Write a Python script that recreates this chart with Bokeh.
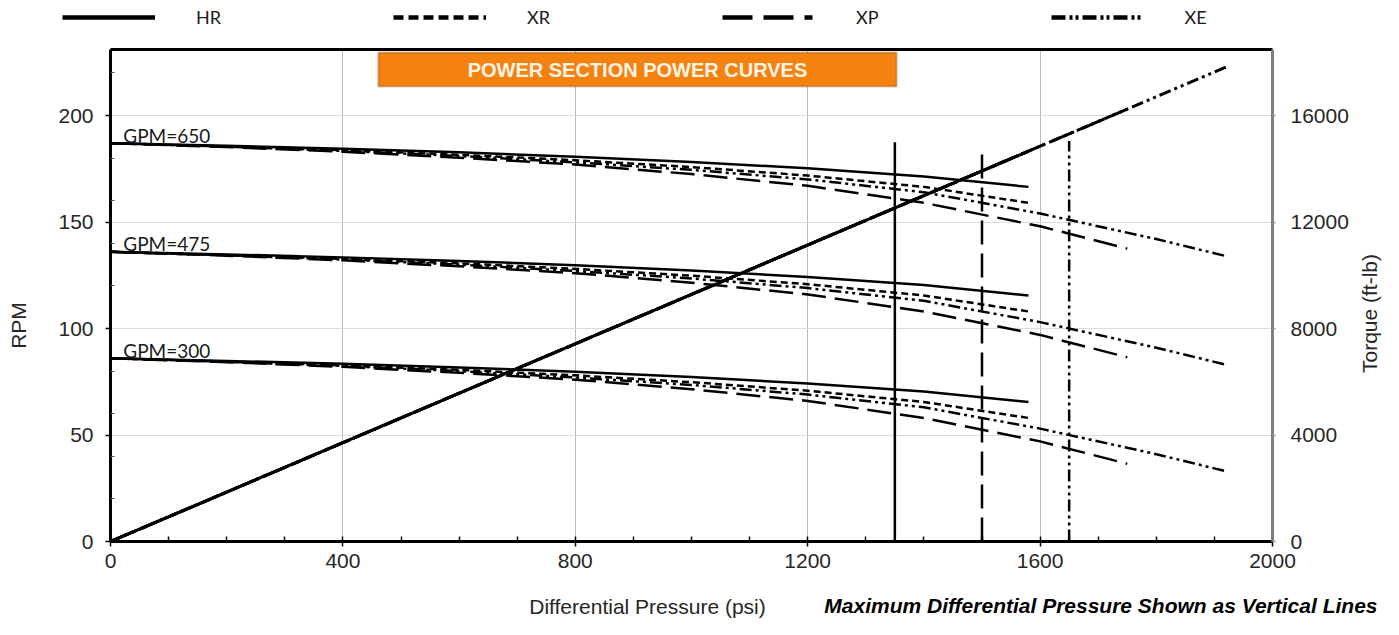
import math
from bokeh.plotting import figure
from bokeh.layouts import column, row
from bokeh.models import (Range1d, LinearAxis, FixedTicker, Legend, LegendItem,
                          Label, BoxAnnotation)
from bokeh.core.properties import value
from bokeh.embed import file_html
from bokeh.resources import INLINE

# ---------------- data ----------------
gpm_labels = ["GPM=650", "GPM=475", "GPM=300"]

pressure_hr = [0, 200, 400, 600, 800, 1000, 1200, 1400, 1580]
pressure_xr = [0, 200, 400, 600, 800, 1000, 1200, 1400, 1580]
pressure_xp = [0, 200, 400, 600, 800, 1000, 1200, 1400, 1600, 1750]
pressure_xe = [0, 200, 400, 600, 800, 1000, 1200, 1400, 1600, 1800, 1920]

rpm_hr_650 = [187, 185.8, 184.4, 182.7, 180.7, 178.2, 175.2, 171.4, 166.5]
rpm_hr_475 = [136, 134.8, 133.4, 131.7, 129.7, 127.2, 124.2, 120.4, 115.5]
rpm_hr_300 = [86, 84.8, 83.4, 81.7, 79.7, 77.2, 74.2, 70.4, 65.5]

rpm_xr_650 = [187, 185.5, 183.7, 181.6, 179.0, 175.8, 171.8, 166.5, 159.0]
rpm_xr_475 = [136, 134.5, 132.7, 130.6, 128.0, 124.8, 120.8, 115.5, 108.0]
rpm_xr_300 = [86, 84.5, 82.7, 80.6, 78.0, 74.8, 70.8, 65.5, 58.0]

rpm_xp_650 = [187, 185.2, 183.0, 180.2, 177.0, 172.5, 167.0, 159.0, 148.0, 137.5]
rpm_xp_475 = [136, 134.2, 132.0, 129.2, 126.0, 121.5, 116.0, 108.0, 97.0, 86.5]
rpm_xp_300 = [86, 84.2, 82.0, 79.2, 76.0, 71.5, 66.0, 58.0, 47.0, 36.5]

rpm_xe_650 = [187, 185.4, 183.4, 181.0, 178.0, 174.5, 170.0, 164.0, 154.0, 142.0, 134.0]
rpm_xe_475 = [136, 134.4, 132.4, 130.0, 127.0, 123.5, 119.0, 113.0, 103.0, 91.0, 83.0]
rpm_xe_300 = [86, 84.4, 82.4, 80.0, 77.0, 73.5, 69.0, 63.0, 53.0, 41.0, 33.0]

# torque (ft-lb) vs differential pressure, per model
torque_pressure_hr = [0, 1580]
torque_hr = [0, 14660]
torque_pressure_xr = [0, 1580]
torque_xr = [0, 14660]
torque_pressure_xp = [0, 1750]
torque_xp = [0, 16240]
torque_pressure_xe = [0, 1920]
torque_xe = [0, 17820]

# maximum differential pressure (vertical lines)
max_pressure = [1350, 1500, 1650]
max_line_top = [187.5, 184.5, 188.0]

x_ticks = [0, 400, 800, 1200, 1600, 2000]
x_minor = [100, 200, 300, 500, 600, 700, 900, 1000, 1100, 1300, 1400, 1500, 1700, 1800, 1900]
y_ticks = [0, 50, 100, 150, 200]
y_minor = [20, 40, 60, 80, 120, 140, 160, 180, 220]
torque_ticks = [0, 4000, 8000, 12000, 16000]

legend_labels = ["HR", "XR", "XP", "XE"]

# ---------------- styles / layout ----------------
FONT = "Liberation Sans"
TXT = "#262626"
W = 1383
LEG_H = 40
MAIN_H = 548
BOT_H = 619 - LEG_H - MAIN_H
LEFT_W = 40
RIGHT_W = 30
MAIN_W = W - LEFT_W - RIGHT_W
FRAME_W = 1162
dash = {"HR": "solid", "XR": "7 4", "XP": "24 9", "XE": "12 4 3 4 3 4"}
legend_dash = {"HR": "solid", "XR": "10 5", "XP": "30 11 30 11 8 20", "XE": "14 4 3 3 3 4"}

Y_MAX = 231
TORQUE_PER_RPM = 80
NAN = float("nan")


def blank_fig(width, height):
    f = figure(width=width, height=height, output_backend="svg", toolbar_location=None,
               x_range=Range1d(0, width), y_range=Range1d(0, height),
               x_axis_location=None, y_axis_location=None, min_border=0,
               frame_align=False)
    f.outline_line_color = None
    f.background_fill_color = "white"
    f.border_fill_color = "white"
    f.grid.visible = False
    return f


# ---------- legend strip (top) ----------
top = blank_fig(W, LEG_H)
items = []
for key in legend_labels:
    r = top.line(x=[NAN], y=[NAN], line_color="black", line_width=4.5,
                 line_dash=legend_dash[key])
    items.append(LegendItem(label=key, renderers=[r]))
legend = Legend(items=items, orientation="horizontal", location=(62, 12),
                glyph_width=93, glyph_height=20, label_standoff=41, spacing=172,
                padding=0, margin=0, background_fill_alpha=0, border_line_alpha=0,
                label_text_font="Lato", label_text_font_size="18px",
                label_text_color="#1a1a1a")
top.add_layout(legend)

# ---------- left / right strips with the vertical axis titles ----------
left = blank_fig(LEFT_W, MAIN_H)
left.add_layout(Label(x=18, y=MAIN_H - (325 - LEG_H), text="RPM", text_font=FONT,
                      text_font_size="21px", text_color=TXT, angle=math.pi / 2,
                      text_align="center", text_baseline="middle"))
right = blank_fig(RIGHT_W, MAIN_H)
right.add_layout(Label(x=16, y=MAIN_H - (313 - LEG_H), text="Torque (ft-lb)",
                       text_font=FONT, text_font_size="21px", text_color=TXT,
                       angle=math.pi / 2, text_align="center", text_baseline="middle"))

# ---------- main chart ----------
p = figure(width=MAIN_W, height=MAIN_H, output_backend="svg", toolbar_location=None,
           x_range=Range1d(0, 2000), y_range=Range1d(0, Y_MAX),
           min_border_left=110 - LEFT_W, min_border_right=MAIN_W - (110 - LEFT_W) - FRAME_W,
           min_border_top=49 - LEG_H, min_border_bottom=MAIN_H - (541 - LEG_H),
           x_axis_location=None, y_axis_location=None, frame_align=False)
p.outline_line_color = None
p.background_fill_color = "white"
p.border_fill_color = "white"
p.extra_y_ranges = {"torque": Range1d(0, Y_MAX * TORQUE_PER_RPM)}

xaxis = LinearAxis(ticker=FixedTicker(ticks=x_ticks, minor_ticks=x_minor))
yaxis = LinearAxis(ticker=FixedTicker(ticks=y_ticks, minor_ticks=y_minor))
raxis = LinearAxis(y_range_name="torque",
                   ticker=FixedTicker(ticks=torque_ticks, minor_ticks=[]))
taxis = LinearAxis(ticker=FixedTicker(ticks=[], minor_ticks=[]))

for ax in (xaxis, yaxis, raxis):
    ax.major_label_text_font = FONT
    ax.major_label_text_font_size = "21px"
    ax.major_label_text_color = TXT
    ax.axis_line_width = 3
    ax.major_tick_line_width = 1.5

xaxis.axis_line_color = "black"
xaxis.major_tick_in = 5
xaxis.major_tick_out = 5
xaxis.minor_tick_in = 5
xaxis.minor_tick_out = 0
xaxis.minor_tick_line_width = 1.5
xaxis.major_label_standoff = 7

yaxis.axis_line_color = "black"
yaxis.major_tick_in = 0
yaxis.major_tick_out = 5
yaxis.minor_tick_in = 4
yaxis.minor_tick_out = 0
yaxis.minor_tick_line_color = "#555555"
yaxis.major_label_standoff = 12

raxis.axis_line_color = "#7F7F7F"
raxis.major_tick_line_color = "#9A9A9A"
raxis.major_tick_in = 0
raxis.major_tick_out = 3
raxis.minor_tick_line_color = None
raxis.major_label_standoff = 15

taxis.axis_line_color = "black"
taxis.axis_line_width = 3
taxis.major_tick_out = 0
taxis.major_tick_in = 0
taxis.minor_tick_out = 0
taxis.minor_tick_in = 0
taxis.major_label_standoff = 0
taxis.major_label_text_font_size = "0px"
taxis.major_tick_line_color = None
taxis.minor_tick_line_color = None

p.add_layout(xaxis, "below")
p.add_layout(yaxis, "left")
p.add_layout(raxis, "right")
p.add_layout(taxis, "above")

p.xgrid.ticker = FixedTicker(ticks=x_ticks)
p.xgrid.grid_line_color = "#BDBDBD"
p.ygrid.ticker = FixedTicker(ticks=y_ticks)
p.ygrid.grid_line_color = "#DCDCDC"

# torque lines (right axis), longest first
for px_, tq, key in [(torque_pressure_xe, torque_xe, "XE"),
                     (torque_pressure_xp, torque_xp, "XP"),
                     (torque_pressure_xr, torque_xr, "XR"),
                     (torque_pressure_hr, torque_hr, "HR")]:
    p.line(px_, tq, y_range_name="torque", line_color="black", line_width=3,
           line_dash=dash[key])

series = [
    ("XE", pressure_xe, [rpm_xe_650, rpm_xe_475, rpm_xe_300]),
    ("XP", pressure_xp, [rpm_xp_650, rpm_xp_475, rpm_xp_300]),
    ("XR", pressure_xr, [rpm_xr_650, rpm_xr_475, rpm_xr_300]),
    ("HR", pressure_hr, [rpm_hr_650, rpm_hr_475, rpm_hr_300]),
]
for key, px_, curves in series:
    for c in curves:
        p.line(px_, c, line_color="black", line_width=2.5, line_dash=dash[key])

for mp, tp, key in zip(max_pressure, max_line_top, ["HR", "XP", "XE"]):
    p.line([mp, mp], [0, tp], line_color="black", line_width=2.5, line_dash=dash[key])

starts = [rpm_hr_650[0], rpm_hr_475[0], rpm_hr_300[0]]
p.text(x=[22] * 3, y=[s + 3.8 for s in starts], text=gpm_labels,
       text_font=value("Lato"), text_font_size=value("19px"), text_color="#1a1a1a",
       text_baseline="alphabetic", text_align="left")

title_left, title_right, title_top, title_bottom = 461, 1353, 229.6, 213.6
p.add_layout(BoxAnnotation(left=title_left, right=title_right, top=title_top,
                           bottom=title_bottom, fill_color="#F5820F", fill_alpha=1,
                           line_color="#7A3A10", line_width=2, level="overlay"))
p.add_layout(Label(x=(title_left + title_right) / 2, y=(title_top + title_bottom) / 2,
                   text="POWER SECTION POWER CURVES", text_font=FONT,
                   text_font_size="20px", text_font_style="bold",
                   text_color="#FFF4E6", text_align="center",
                   text_baseline="middle", level="overlay"))

# ---------- bottom strip: x title and note ----------
bot = blank_fig(W, BOT_H)
bot.add_layout(Label(x=647, y=BOT_H - 18, text="Differential Pressure (psi)",
                     text_font=FONT, text_font_size="21px", text_color=TXT,
                     text_align="center", text_baseline="middle"))
bot.add_layout(Label(x=W - 6, y=BOT_H - 17,
                     text="Maximum Differential Pressure Shown as Vertical Lines",
                     text_font=FONT, text_font_size="21px",
                     text_font_style="bold italic", text_color="black",
                     text_align="right", text_baseline="middle"))

layout = column(top, row(left, p, right, spacing=0), bot, spacing=0)
open("out.html", "w").write(file_html(layout, INLINE))
